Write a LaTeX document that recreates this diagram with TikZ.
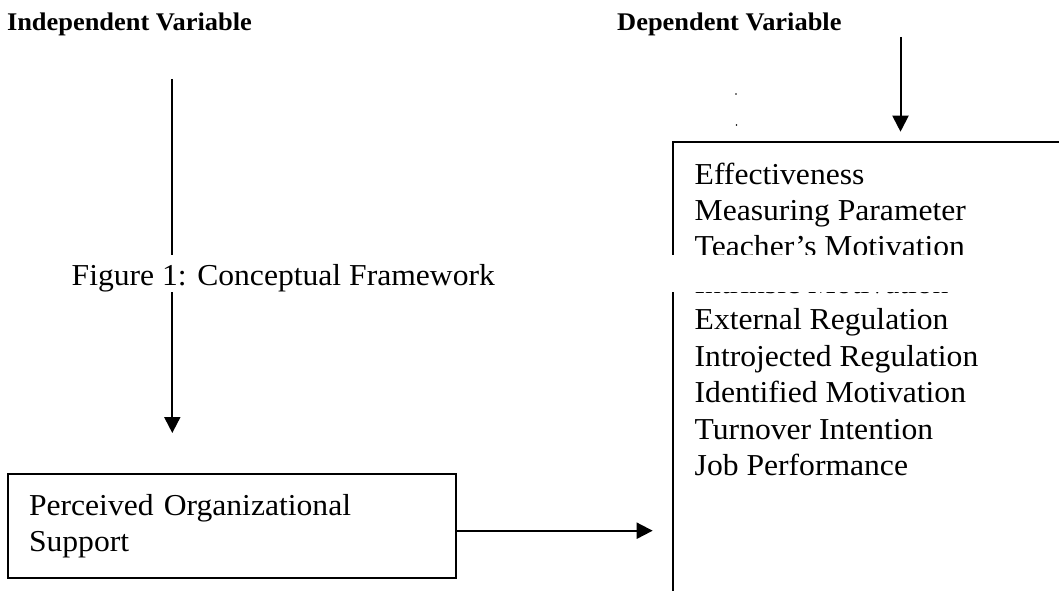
\documentclass[tikz,border=0pt]{standalone}
\usepackage{fontspec}
\setmainfont[FakeStretch=1.04]{Liberation Serif}
\usetikzlibrary{arrows.meta}

\tikzset{
  headtext/.style={inner sep=0pt, font=\fontsize{25.4}{30}\selectfont\bfseries},
  bodytext/.style={inner sep=0pt, font=\fontsize{30.4}{36}\selectfont},
  frameline/.style={line width=2pt},
  arr/.style={line width=2pt, -{Triangle[width=16pt,length=16pt]}},
  speck/.style={fill=black, inner sep=0pt, minimum size=1.6pt, circle}
}

\begin{document}
\begin{tikzpicture}[x=1pt, y=-1pt]
  \useasboundingbox (0,0) rectangle (1059,591);
  \clip (0,0) rectangle (1059,591);

  % column headings
  \node[headtext, anchor=base west] (ivhead) at (6.8,31) {Independent Variable};
  \node[headtext, anchor=base west] (dvhead) at (617,31) {Dependent Variable};

  % independent variable box
  \node[draw, frameline, bodytext, align=left, anchor=north west,
        inner xsep=21pt, inner ysep=0pt, text width=406pt,
        minimum width=448pt, minimum height=103.5pt]
        (pos) at (7,473) {Perceived Organizational\\Support};

  % dependent variable box (runs past the right and bottom edges)
  \coordinate (dvnw) at (673.3,142.3);
  \coordinate (dvse) at (1085,620);
  \draw[frameline] (dvnw) rectangle (dvse);

  \foreach \t [count=\i from 0] in {Effectiveness, Measuring Parameter,
      Teacher’s Motivation, Intrinsic Motivation, External Regulation,
      Introjected Regulation, Identified Motivation, Turnover Intention,
      Job Performance}
    \node[bodytext, anchor=base west] (dvitem\i) at (694.5,{184+36.46*\i}) {\t};

  % arrows
  \coordinate (ivtop) at (172.3,79);
  \coordinate (ivtip) at (172.3,433);
  \draw[arr] (ivtop) -- (ivtip);

  \coordinate (dvtop) at (900.5,37);
  \coordinate (dvtip) at (900.5,131.7);
  \draw[arr] (dvtop) -- (dvtip);

  \coordinate (linktip) at (652.7,530.7);
  \draw[arr] (pos.east |- linktip) -- (linktip);

  % stray specks
  \node[speck] (speckA) at (736,94) {};
  \node[speck] (speckB) at (736.5,125) {};

  % caption strip laid across the figure
  \fill[white] (0,254.5) rectangle (1059,291.7);
  \node[bodytext, anchor=base west] (caption) at (71.5,285) {Figure 1: Conceptual Framework};
\end{tikzpicture}
\end{document}
